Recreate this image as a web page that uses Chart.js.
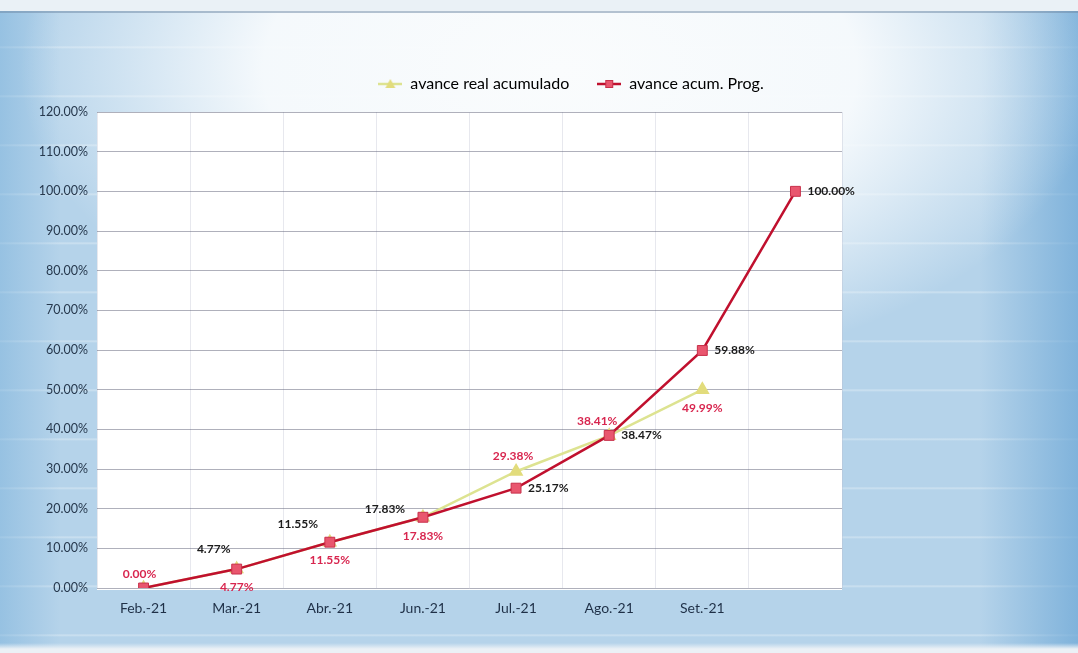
<!DOCTYPE html>
<html>
<head>
<meta charset="utf-8">
<script src="https://cdn.jsdelivr.net/npm/chart.js@4.4.1/dist/chart.umd.min.js"></script>
<style>
html,body{margin:0;padding:0;width:1078px;height:653px;overflow:hidden;}
body{position:relative;background:
 linear-gradient(to bottom, rgba(255,255,255,0) 0px, rgba(255,255,255,0) 643px, rgba(235,241,246,1) 649px),
 radial-gradient(ellipse 540px 310px at 560px 70px, rgba(250,252,253,1) 0%, rgba(248,251,253,0.95) 55%, rgba(248,251,253,0) 100%),
 linear-gradient(to right, rgba(120,176,218,0.5) 0px, rgba(120,176,218,0) 60px, rgba(120,176,218,0) 980px, rgba(110,168,214,0.75) 1078px),
 repeating-linear-gradient(to bottom, rgba(255,255,255,0) 0px, rgba(255,255,255,0) 46px, rgba(255,255,255,0.35) 47px, rgba(255,255,255,0) 49px),
 #b5d3ea;}
#topstrip{position:absolute;left:0;top:0;width:1078px;height:11px;background:#eaf1f6}
#topline{position:absolute;left:0;top:11px;width:1078px;height:2px;background:#6d87a4;opacity:.5}
canvas{position:absolute;left:0;top:0}
</style>
</head>
<body>
<div id="topstrip"></div>
<div id="topline"></div>
<canvas id="c" width="1078" height="653"></canvas>
<script>
// ---- data ----
const categories = ['Feb.-21', 'Mar.-21', 'Abr.-21', 'Jun.-21', 'Jul.-21', 'Ago.-21', 'Set.-21', ''];
const realValues = [0, 4.77, 11.55, 17.83, 29.38, 38.41, 49.99];
const progValues = [0, 4.77, 11.55, 17.83, 25.17, 38.47, 59.88, 100];
const seriesNames = ['avance real acumulado', 'avance acum. Prog.'];
const yMin = 0, yMax = 120, yStep = 10;

// ---- label placement (style, not data) ----
const realLabelPlace = [
  {dx:-4, dy:-14}, {dx:0, dy:18}, {dx:0, dy:18}, {dx:0, dy:19},
  {dx:-3, dy:-15}, {dx:-12, dy:-15}, {dx:0, dy:18}
];
const progLabelPlace = [
  null, {dx:-23, dy:-20}, {dx:-32, dy:-18}, {dx:-38, dy:-8},
  {dx:12, dy:0, align:'left'}, {dx:12, dy:0, align:'left'},
  {dx:12, dy:0, align:'left'}, {dx:12, dy:0, align:'left'}
];

const realLine = '#dde391', realFill = '#e2dc7c';
const progLine = '#c0102e', progFill = '#e9566e', progEdge = '#c8304a';

Chart.defaults.font.family = 'Lato, "Open Sans", sans-serif';

function makeMarker(shape) {
  const c = document.createElement('canvas');
  c.width = 24; c.height = 14;
  const g = c.getContext('2d');
  g.lineWidth = 2.5;
  g.strokeStyle = shape === 'rect' ? progLine : realLine;
  g.beginPath(); g.moveTo(0, 7); g.lineTo(24, 7); g.stroke();
  if (shape === 'rect') {
    g.fillStyle = progFill; g.fillRect(8, 3, 8, 8);
    g.strokeStyle = progEdge; g.lineWidth = 1; g.strokeRect(8.5, 3.5, 7, 7);
  } else {
    g.fillStyle = realFill;
    g.beginPath(); g.moveTo(12, 2); g.lineTo(17, 11); g.lineTo(7, 11); g.closePath(); g.fill();
  }
  return c;
}
const legendMarkers = [makeMarker('tri'), makeMarker('rect')];

const plotBg = {
  id: 'plotBg',
  beforeDraw(chart) {
    const {ctx, chartArea: a} = chart;
    ctx.save();
    ctx.fillStyle = '#ffffff';
    ctx.fillRect(a.left, a.top, a.right - a.left, a.bottom - a.top + 2);
    ctx.restore();
  }
};

const legendPlace = {
  id: 'legendPlace',
  beforeLayout(chart) {
    const lg = chart.legend;
    if (lg && !lg._patched) {
      const f = lg.fit;
      lg.fit = function () { f.call(this); this.height = 112; };
      lg._patched = true;
    }
  },
  afterLayout(chart) {
    const lg = chart.legend;
    if (!lg) return;
    const shift = 571 - (lg.left + lg.right) / 2;
    lg.left += shift; lg.right += shift;
    const h = lg.bottom - lg.top;
    lg.top = 48; lg.bottom = 48 + h;
  }
};

const labelSpecs = [
  {dataset: 0, place: realLabelPlace, color: '#d8264f'},
  {dataset: 1, place: progLabelPlace, color: '#1b1b1b'}
];
const pointLabels = {
  id: 'pointLabels',
  afterDatasetsDraw(chart) {
    const ctx = chart.ctx;
    labelSpecs.forEach(spec => {
      const meta = chart.getDatasetMeta(spec.dataset);
      const vals = chart.data.datasets[spec.dataset].data;
      meta.data.forEach((pt, i) => {
        const p = spec.place[i];
        if (!p || vals[i] == null) return;
        ctx.save();
        ctx.font = 'bold 12px Lato, "Open Sans", sans-serif';
        ctx.fillStyle = spec.color;
        ctx.textAlign = p.align || 'center';
        ctx.textBaseline = 'middle';
        ctx.fillText(vals[i].toFixed(2) + '%', pt.x + p.dx, pt.y + p.dy);
        ctx.restore();
      });
    });
  }
};

new Chart(document.getElementById('c'), {
  type: 'line',
  data: {
    labels: categories,
    datasets: [
      {
        label: seriesNames[0],
        data: realValues,
        order: 1,
        borderColor: realLine,
        borderWidth: 2.5,
        pointStyle: 'triangle',
        pointRadius: 6,
        pointBackgroundColor: realFill,
        pointBorderColor: realFill,
        tension: 0,
        fill: false
      },
      {
        label: seriesNames[1],
        data: progValues,
        order: 0,
        borderColor: progLine,
        borderWidth: 2.5,
        pointStyle: 'rect',
        pointRadius: 7,
        pointBackgroundColor: progFill,
        pointBorderColor: progEdge,
        pointBorderWidth: 1,
        tension: 0,
        fill: false
      }
    ]
  },
  options: {
    responsive: false,
    animation: false,
    devicePixelRatio: 1,
    layout: {padding: {left: 0, right: 236, top: 0, bottom: 0}},
    plugins: {
      tooltip: {enabled: false},
      legend: {
        position: 'top',
        labels: {
          usePointStyle: true,
          pointStyleWidth: 24,
          padding: 28,
          color: '#1c1c1c',
          font: {size: 16},
          generateLabels() {
            return seriesNames.map((n, i) => ({
              text: n,
              pointStyle: legendMarkers[i],
              fillStyle: 'rgba(0,0,0,0)',
              strokeStyle: 'rgba(0,0,0,0)',
              lineWidth: 0,
              datasetIndex: i,
              hidden: false
            }));
          }
        }
      }
    },
    scales: {
      x: {
        offset: true,
        grid: {offset: true, color: 'rgba(185,190,205,0.35)', drawTicks: false},
        border: {display: false},
        ticks: {color: '#1f3047', font: {size: 14}, padding: 12, maxRotation: 0, autoSkip: false},
        afterFit(s) { s.height = 65; }
      },
      y: {
        min: yMin, max: yMax,
        grid: {color: 'rgba(95,98,120,0.5)', drawTicks: false},
        border: {display: false},
        ticks: {
          stepSize: yStep,
          color: '#26384d',
          font: {size: 12.5},
          padding: 9,
          callback: v => Number(v).toFixed(2) + '%'
        },
        afterFit(s) { s.width = 97; }
      }
    }
  },
  plugins: [plotBg, legendPlace, pointLabels]
});
</script>
</body>
</html>
